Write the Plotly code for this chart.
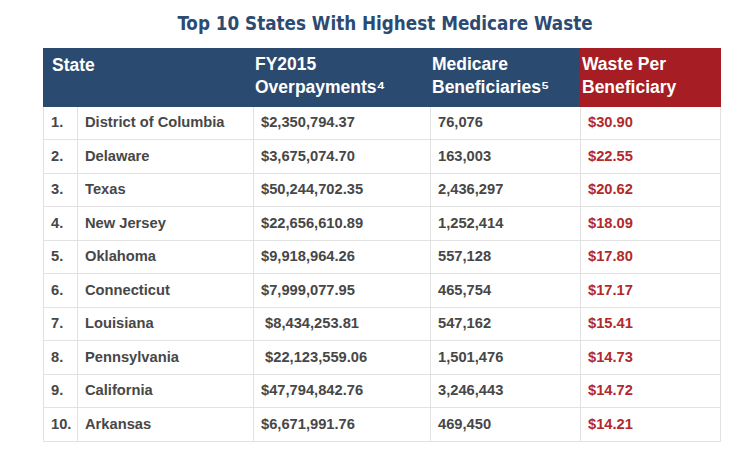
import plotly.graph_objects as go

title = "Top 10 States With Highest Medicare Waste"
headers = ["State", "", "FY2015<br>Overpayments\u2074", "Medicare<br>Beneficiaries\u2075", "Waste Per<br>Beneficiary"]
ranks = ["1.", "2.", "3.", "4.", "5.", "6.", "7.", "8.", "9.", "10."]
states = ["District of Columbia", "Delaware", "Texas", "New Jersey", "Oklahoma",
          "Connecticut", "Louisiana", "Pennsylvania", "California", "Arkansas"]
overpayments = ["$2,350,794.37", "$3,675,074.70", "$50,244,702.35", "$22,656,610.89",
                "$9,918,964.26", "$7,999,077.95", "\u00a0$8,434,253.81", "\u00a0$22,123,559.06",
                "$47,794,842.76", "$6,671,991.76"]
beneficiaries = ["76,076", "163,003", "2,436,297", "1,252,414", "557,128",
                 "465,754", "547,162", "1,501,476", "3,246,443", "469,450"]
waste = ["$30.90", "$22.55", "$20.62", "$18.09", "$17.80",
         "$17.17", "$15.41", "$14.73", "$14.72", "$14.21"]

BLUE = "#2b4a6f"
RED = "#a71d24"
TXT = "#474747"
RTXT = "#b2292b"
FONT = "Liberation Sans, Arial, sans-serif"

W, H = 750, 455
x0, x1 = 43, 720
y0, y1 = 48, 442
colw = [34, 176, 177, 150, 140]
head_h = 58
row_h = 33.5

fig = go.Figure(go.Table(
    domain=dict(x=[x0 / W, x1 / W], y=[1 - y1 / H, 1 - y0 / H]),
    columnwidth=colw,
    header=dict(
        values=["" for _ in headers],
        fill_color=[BLUE, BLUE, BLUE, BLUE, RED],
        line=dict(color=[BLUE, BLUE, BLUE, BLUE, RED], width=1),
        font=dict(family=FONT, size=17, color="white"),
        align="left",
        height=head_h,
    ),
    cells=dict(
        values=[[f"<b>{v}</b>" for v in col] for col in [ranks, states, overpayments, beneficiaries, waste]],
        fill_color="white",
        line=dict(color="#e2e2e2", width=1),
        font=dict(family=FONT, size=14.7, color=[TXT, TXT, TXT, TXT, RTXT]),
        align="left",
        height=row_h,
    ),
))

# header labels placed at the left edge of each column
left = x0
for i, h in enumerate(headers):
    if h:
        two = "<br>" in h
        fig.add_annotation(
            text=f"<b>{h}</b>", xref="paper", yref="paper",
            x=(left + (7 if i == 0 else 0)) / W,
            y=1 - (y0 + (28 if two else 17)) / H,
            xanchor="left", yanchor="middle", align="left",
            showarrow=False, font=dict(family=FONT, size=17.5, color="white"),
        )
    left += colw[i]

fig.update_layout(
    width=W, height=H,
    margin=dict(l=0, r=0, t=0, b=0),
    paper_bgcolor="white",
    title=dict(
        text=f"<b>{title}</b>", x=385 / W, xanchor="center",
        y=1 - 23 / H, yanchor="middle",
        font=dict(family="DejaVu Sans Condensed, Roboto, sans-serif", size=18.7, color="#2b4b73"),
    ),
)

fig.write_html("out.html", config={"displayModeBar": False},
               post_script="document.body.style.margin='0';")
